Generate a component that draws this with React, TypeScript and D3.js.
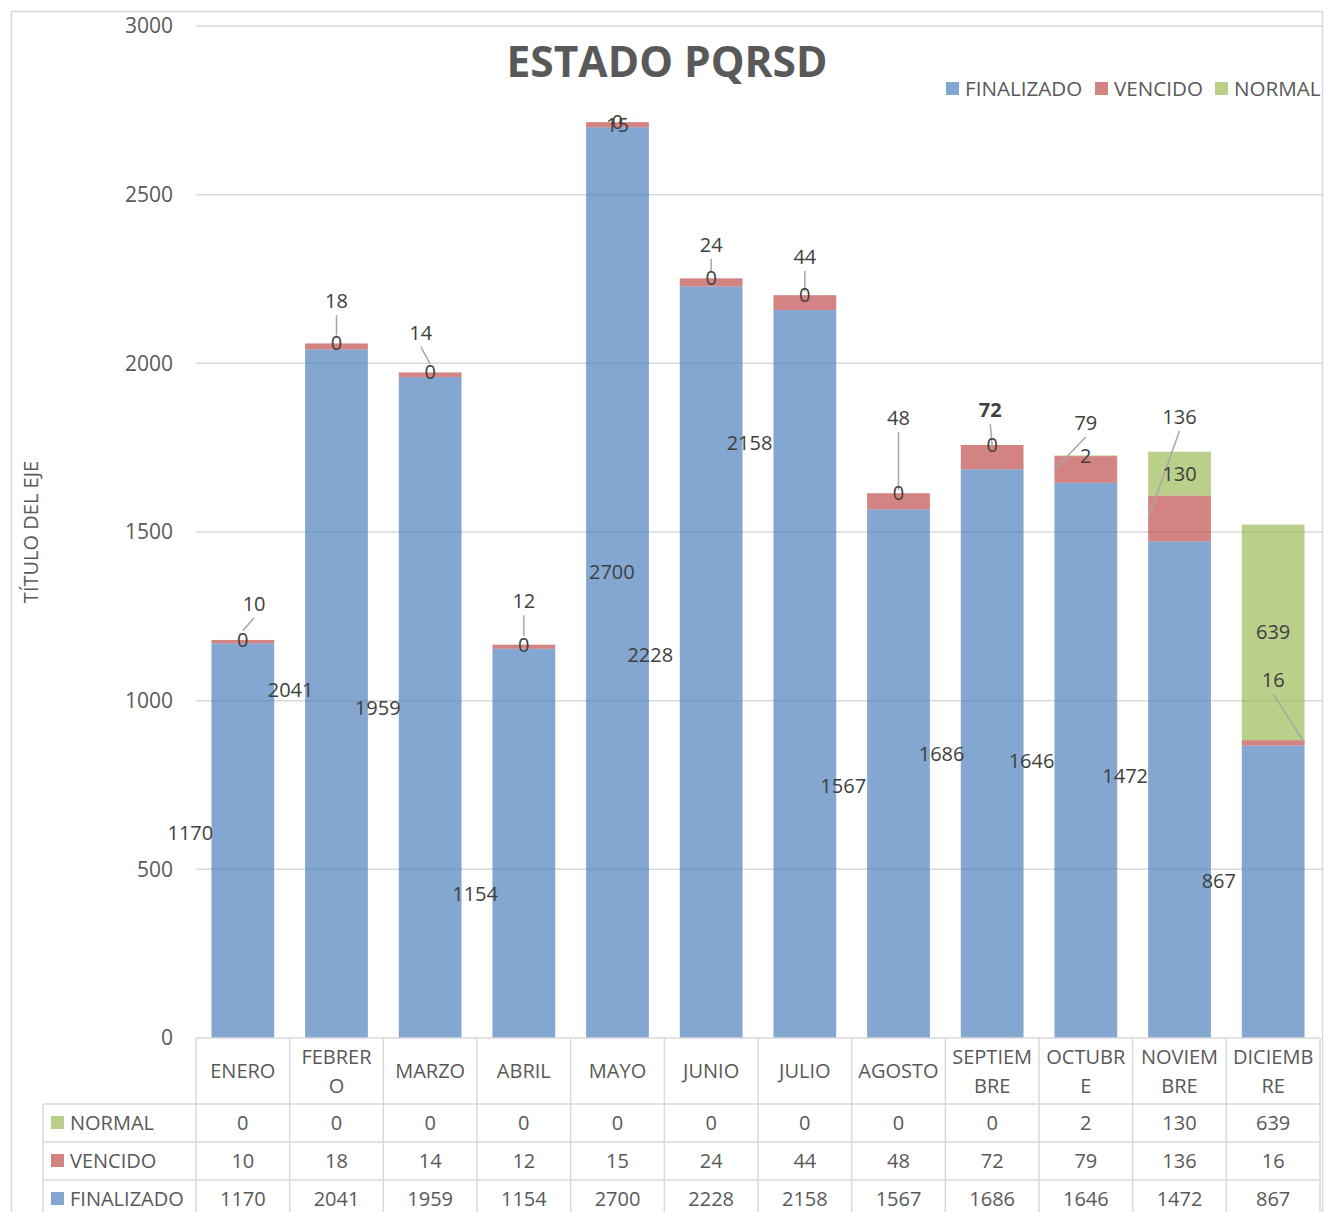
import * as d3 from 'd3'

// chart data
const months = ['ENERO', 'FEBRERO', 'MARZO', 'ABRIL', 'MAYO', 'JUNIO', 'JULIO', 'AGOSTO', 'SEPTIEMBRE', 'OCTUBRE', 'NOVIEMBRE', 'DICIEMBRE']
const monthLines = [['ENERO'], ['FEBRER', 'O'], ['MARZO'], ['ABRIL'], ['MAYO'], ['JUNIO'], ['JULIO'], ['AGOSTO'], ['SEPTIEM', 'BRE'], ['OCTUBR', 'E'], ['NOVIEM', 'BRE'], ['DICIEMB', 'RE']]
const finalizado = [1170, 2041, 1959, 1154, 2700, 2228, 2158, 1567, 1686, 1646, 1472, 867]
const vencido = [10, 18, 14, 12, 15, 24, 44, 48, 72, 79, 136, 16]
const normal = [0, 0, 0, 0, 0, 0, 0, 0, 0, 2, 130, 639]
const yTicks = [0, 500, 1000, 1500, 2000, 2500, 3000]
const seriesNames = ['FINALIZADO', 'VENCIDO', 'NORMAL']
const colors = ['#4f81bd', '#c0504d', '#9bbb59']

// label layout (Excel had these dragged around by hand): dx = fraction of band step, v = value on the y axis
const finLabelDx = [-0.56, -0.49, -0.56, -0.52, -0.06, -0.65, -0.59, -0.59, -0.54, -0.58, -0.58, -0.58]
const finLabelV = [608, 1032, 978, 427, 1381, 1135, 1764, 747, 842, 821, 777, 465]
const vencLabelDx = [0.12, 0, -0.1, 0, 0, 0, 0, 0, -0.02, 0, 0, 0]
const vencLabelV = [1287, 2185, 2090, 1295, 2707, 2351, 2315, 1838, 1862, 1823, 1841, 1061]
const vencLeader = ['top', 'top', 'top', 'top', null, 'top', 'top', 'top', 'top', 'left', 'left', 'right']

const W = 1324
const H = 1212
const font = '"Open Sans", sans-serif'

export default function App() {
  const x = d3.scaleBand<string>().domain(months).range([196, 1320]).paddingInner(0.33).paddingOuter(0.165)
  const y = d3.scaleLinear().domain([0, 3000]).range([1038, 26])
  const step = x.step()
  const bw = x.bandwidth()
  const colX = (i: number) => 196 + i * step

  const rows = months.map((m, i) => ({ m, fin: finalizado[i], ven: vencido[i], nor: normal[i] }))
  const stack = d3.stack<any>().keys(['fin', 'ven', 'nor'])(rows)

  const tableRows = [
    { name: 'NORMAL', vals: normal, color: colors[2], cy: 1123 },
    { name: 'VENCIDO', vals: vencido, color: colors[1], cy: 1161 },
    { name: 'FINALIZADO', vals: finalizado, color: colors[0], cy: 1199 },
  ]

  return (
    <svg width={W} height={H} style={{ position: 'absolute', left: 0, top: 0, background: '#fff' }} fontFamily={font}>
      <rect x={11.5} y={11.5} width={1311} height={H + 20} fill="#fff" stroke="#d9d9d9" strokeWidth={1.5} />

      {/* gridlines + y ticks */}
      {yTicks.map(t => (
        <g key={t}>
          {t > 0 && <line x1={196} x2={1322} y1={y(t)} y2={y(t)} stroke="#d9d9d9" strokeWidth={1.5} />}
          <text x={173} y={y(t)} dy="0.35em" textAnchor="end" fontSize={21} fill="#595959">{t}</text>
        </g>
      ))}

      <text transform="translate(31,532) rotate(-90)" textAnchor="middle" dy="0.35em" fontSize={20} fill="#595959">TÍTULO DEL EJE</text>

      {/* stacked bars */}
      {stack.map((s, si) => (
        <g key={s.key} fill={colors[si]} fillOpacity={0.7}>
          {s.map((d, i) => (
            <rect key={i} x={x(months[i])} width={bw} y={y(d[1])} height={Math.max(0, y(d[0]) - y(d[1]))} />
          ))}
        </g>
      ))}

      {/* leader lines for VENCIDO labels */}
      {months.map((m, i) => {
        const kind = vencLeader[i]
        if (!kind) return null
        const cx = (x(m) as number) + bw / 2
        const lx = cx + vencLabelDx[i] * step
        const ly = y(vencLabelV[i]) + 14
        const segMid = y(finalizado[i] + vencido[i] / 2)
        let ex = cx
        let ey = segMid - 11
        if (kind === 'left') { ex = x(m) as number; ey = segMid }
        if (kind === 'right') { ex = (x(m) as number) + bw; ey = segMid }
        return <line key={m} x1={lx} y1={ly} x2={ex} y2={ey} stroke="#a6a6a6" strokeWidth={1.5} />
      })}

      {/* data labels */}
      <g fontSize={20} fill="#404040" textAnchor="middle">
        {months.map((m, i) => {
          const cx = (x(m) as number) + bw / 2
          return (
            <g key={m}>
              <text x={cx + finLabelDx[i] * step} y={y(finLabelV[i])} dy="0.35em">{finalizado[i]}</text>
              <text x={cx + vencLabelDx[i] * step} y={y(vencLabelV[i])} dy="0.35em" fontWeight={vencido[i] === 72 ? 'bold' : 'normal'}>{vencido[i]}</text>
              <text x={cx} y={y(finalizado[i] + vencido[i] + normal[i] / 2)} dy="0.35em">{normal[i]}</text>
            </g>
          )
        })}
      </g>

      {/* title */}
      <text x={667} y={62} dy="0.35em" textAnchor="middle" fontSize={42.5} fontWeight="bold" fill="#595959">ESTADO PQRSD</text>

      {/* legend */}
      {[0, 1, 2].map(k => {
        const lx = [946, 1095, 1215][k]
        return (
          <g key={k}>
            <rect x={lx} y={82} width={13} height={13} fill={colors[k]} fillOpacity={0.7} />
            <text x={lx + 19} y={89} dy="0.35em" fontSize={20.6} fill="#595959">{seriesNames[k]}</text>
          </g>
        )
      })}

      {/* data table */}
      <g stroke="#d9d9d9" strokeWidth={1.5}>
        <line x1={196} x2={1320} y1={1038} y2={1038} />
        {[1104, 1142, 1180].map(ly => <line key={ly} x1={43} x2={1320} y1={ly} y2={ly} />)}
        {d3.range(13).map(i => <line key={i} x1={colX(i)} x2={colX(i)} y1={1038} y2={H} />)}
        <line x1={43} x2={43} y1={1104} y2={H} />
      </g>
      <g fontSize={20} fill="#595959" textAnchor="middle">
        {monthLines.map((ls, i) => {
          const cx = colX(i) + step / 2
          if (ls.length === 1) return <text key={i} x={cx} y={1071} dy="0.35em">{ls[0]}</text>
          return (
            <g key={i}>
              <text x={cx} y={1057} dy="0.35em">{ls[0]}</text>
              <text x={cx} y={1086} dy="0.35em">{ls[1]}</text>
            </g>
          )
        })}
        {tableRows.map(r => (
          <g key={r.name}>
            <rect x={51} y={r.cy - 7} width={13} height={13} fill={r.color} fillOpacity={0.7} />
            <text x={70} y={r.cy} dy="0.35em" textAnchor="start">{r.name}</text>
            {r.vals.map((v, i) => <text key={i} x={colX(i) + step / 2} y={r.cy} dy="0.35em">{v}</text>)}
          </g>
        ))}
      </g>
    </svg>
  )
}
